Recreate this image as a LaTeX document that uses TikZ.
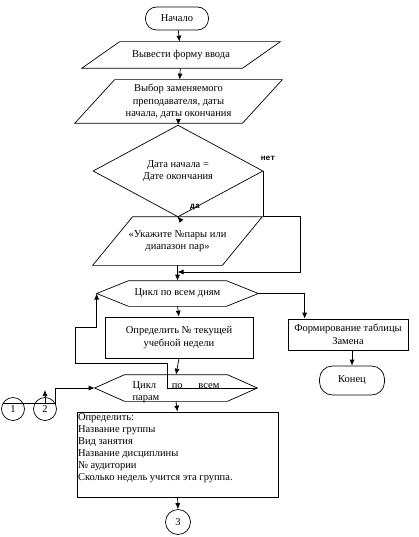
\documentclass[tikz,border=0pt]{standalone}
\usepackage{fontspec}
\setmainfont{Liberation Serif}
\newfontfamily\labelfont{Liberation Mono}
\usetikzlibrary{shapes.geometric, arrows.meta}

% slanted outline round a plain node: name, half slant
\newcommand\ioshape[2]{%
  \draw ([xshift=#2]#1.north west) -- ([xshift=#2]#1.north east)
    -- ([xshift=-#2]#1.south east) -- ([xshift=-#2]#1.south west) -- cycle;}
% pointed outline round a plain node: name, point length
\newcommand\prepshape[2]{%
  \draw (#1.west) -- ([xshift=#2]#1.north west) -- ([xshift=-#2]#1.north east)
    -- (#1.east) -- ([xshift=-#2]#1.south east) -- ([xshift=#2]#1.south west) -- cycle;}

\begin{document}
\begin{tikzpicture}[x=1pt, y=-1pt, >={Latex[length=6pt, width=5pt]}, line width=0.7pt,
    font=\fontsize{10.5}{12.5}\selectfont, align=center, inner sep=1pt]
  \tikzset{
    term/.style={draw, rounded corners=11pt, minimum width=63pt, minimum height=23pt},
    act/.style={draw, rectangle},
    lbl/.style={font=\labelfont\bfseries\fontsize{8}{9}\selectfont}
  }
  \useasboundingbox (0,0) rectangle (418,537);

  % main column
  \node[term] (start) at (177,18.5) {Начало};
  \node[minimum width=160pt, minimum height=26pt] (in1) at (181,55) {Вывести форму ввода};
  \node[minimum width=167pt, minimum height=43pt] (in2) at (178.5,101.5)
    {Выбор заменяемого\\преподавателя, даты\\начала, даты окончания};
  \node[draw, diamond, inner sep=0pt, minimum width=170pt, minimum height=66pt] (dec)
    at (178,171) {Дата начала =\\Дате окончания};
  \node[minimum width=129pt, minimum height=48pt] (in3) at (177.5,241)
    {«Укажите №пары или\\диапазон пар»};
  \node[minimum width=161pt, minimum height=25pt] (days) at (177.5,293.5) {Цикл по всем дням};
  \node[act, minimum width=148pt, minimum height=41pt] (week) at (179,337.5)
    {Определить № текущей\\учебной недели};
  \node[minimum width=162pt, minimum height=26pt] (pairs) at (176,388) {};
  \node[align=left] (pairstext) at (176,392) {Цикл\quad\ \ по\quad\ \ всем\\парам};
  \node[act, inner xsep=1pt, inner ysep=0pt] (detail) at (177.5,454.5)
    {\parbox[c][85pt][t]{199pt}{\fontsize{10.5}{12}\selectfont\vspace*{2pt}\raggedright
      Определить:\\Название группы\\Вид занятия\\Название дисциплины\\№ аудитории\\Сколько недель учится эта группа.}};
  \node[draw, circle, minimum size=25pt] (c3) at (178,522) {3};

  % right column
  \node[act, minimum width=120pt, minimum height=31pt] (table) at (348,334.5)
    {Формирование таблицы\\Замена};
  \node[term, minimum width=65pt, minimum height=29pt, rounded corners=13pt] (stop) at (352,380.5) {Конец};

  % connectors
  \node[draw, circle, minimum size=23pt] (c1) at (13,409) {1};
  \node[draw, circle, minimum size=23pt] (c2) at (45,409) {2};

  % outlines
  \ioshape{in1}{19pt}
  \ioshape{in2}{20pt}
  \ioshape{in3}{20pt}
  \prepshape{days}{32pt}
  \prepshape{pairs}{30pt}

  \coordinate (back) at (300,272);
  \coordinate (loopA) at (167,363);
  \coordinate (loopB) at (75,327);
  \coordinate (c2up) at (45,390);

  \draw[->] (start) -- (in1);
  \draw[->] (in1) -- (in2);
  \draw[->] (in2) -- (dec);
  \draw[->] (dec.south) -- (in3.north);
  \node[lbl] (yes) at (195,207) {да};
  \node[lbl] (no) at (268,158) {нет};
  \draw[->] (dec.east) -- (dec.east |- in3.north) -- (back |- in3.north) -- (back) -- (in3.south |- back);
  \draw[->] (in3.south) -- (days.north);
  \draw[->] (days.south) -- (week.north);
  \draw[->] (week.south) -- (pairs.north);
  \draw[->] (days.east) -| ([xshift=17pt]table.north west);
  \draw[->] (table.south -| stop.north) -- (stop.north);
  \draw[->] (pairs.east) -- (loopA |- pairs.east) -- (loopA) -- (loopB |- loopA) -- (loopB)
    -- (days.west |- loopB) -- (days.west);
  \draw[->] (c1.150) -- (c2.30) -- (c2.30 |- pairs.west) -- (pairs.west);
  \draw[->] (c2.north |- c2.30) -- (c2up);
  \draw[->] (pairs.south) -- (detail.north);
  \draw[->] (detail.south) -- (c3.north);
\end{tikzpicture}
\end{document}
